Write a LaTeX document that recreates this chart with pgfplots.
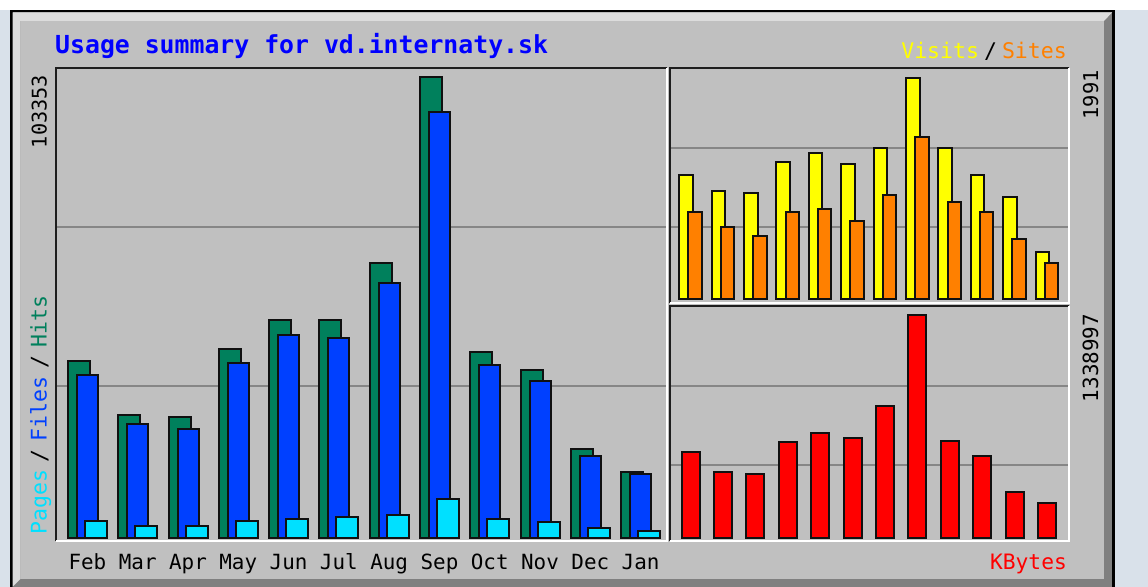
\documentclass[border=0pt]{standalone}
\usepackage{pgfplots}
\pgfplotsset{compat=1.18}
\usepackage{pgfplotstable}
\usepackage{fontspec}
\setmainfont{DejaVu Sans Mono}
\newfontfamily\mono{DejaVu Sans Mono}

\definecolor{hitsc}{HTML}{00805C}
\definecolor{filesc}{HTML}{0040FF}
\definecolor{pagesc}{HTML}{00E0FF}
\definecolor{visitsc}{HTML}{FFFF00}
\definecolor{sitesc}{HTML}{FF8000}
\definecolor{kbytesc}{HTML}{FF0000}
\definecolor{titlec}{HTML}{0000FF}
\definecolor{panelc}{HTML}{C0C0C0}
\definecolor{pagebg}{HTML}{D9E1EA}
\definecolor{gridc}{HTML}{868686}
\definecolor{shadowc}{HTML}{808080}
\definecolor{lightc}{HTML}{DCDCDC}
\definecolor{bevdark}{HTML}{1E1E1E}
\definecolor{barline}{HTML}{101010}

\pgfplotstableread{
m hits files pages
0 39740 36590 3750
1 27480 25530 2630
2 27030 24400 2630
3 42300 39150 3820
4 48870 45510 4130
5 48870 44830 4710
6 61740 57110 5160
7 103353 95640 8760
8 41760 38770 4200
9 37650 35250 3590
10 19850 18270 2180
11 14820 14230 1570
}\hitstable

\pgfplotstableread{
m visits sites
0 1117 787
1 973 647
2 952 566
3 1236 787
4 1317 811
5 1216 706
6 1359 934
7 1991 1461
8 1359 872
9 1117 787
10 916 545
11 422 323
}\visitstable

\pgfplotstableread{
m kbytes
0 517800
1 395600
2 383500
3 574400
4 628600
5 602100
6 792900
7 1338997
8 584000
9 493700
10 275100
11 207100
}\kbytestable

\newcommand{\fsz}[1]{\fontsize{#1}{#1}\selectfont}

\pgfplotsset{
  webpanel/.style={
    scale only axis,
    anchor=south west,
    clip=false,
    axis line style={draw=none},
    major tick length=0pt,
    scaled y ticks=false,
    yticklabels={},
    ymajorgrids,
    grid style={line width=2bp, gridc},
    xtick style={draw=none},
    ytick style={draw=none},
  },
  webbar/.style={ybar, draw=barline, line width=2bp},
}

\newcommand{\bevel}{%
  \draw[line width=2bp, bevdark] (rel axis cs:0,0) -- (rel axis cs:0,1) -- (rel axis cs:1,1);
  \draw[line width=2bp, white] (rel axis cs:1,1) -- (rel axis cs:1,0) -- (rel axis cs:0,0);
}

\begin{document}
\begin{tikzpicture}[x=1bp, y=1bp]
\useasboundingbox (0,0) rectangle (1148,587);
% page and frame
\fill[pagebg] (0,0) rectangle (1148,587);
\fill[white] (0,577) rectangle (1148,587);
\fill[black] (10,0) rectangle (1114.5,577);
\fill[shadowc] (12.5,0) rectangle (1112,574.5);
\fill[lightc] (12.5,574.5) -- (1112,574.5) -- (1104,566) -- (20.5,566) -- (20.5,8) -- (12.5,0) -- cycle;
\fill[panelc] (20.5,8) rectangle (1104,566);

\coordinate (PL) at (56,46);
\coordinate (PU) at (669.5,284);
\coordinate (PD) at (669.5,46);

% left panel: hits / files / pages
\begin{axis}[webpanel,
  at={(PL)}, width=611bp, height=472.7bp,
  xmin=-0.625, xmax=11.525, ymin=-740, ymax=105380,
  ytick={34060,69820},
  xtick={0,...,11},
  xticklabels={Feb,Mar,Apr,May,Jun,Jul,Aug,Sep,Oct,Nov,Dec,Jan},
  xticklabel style={font=\fsz{21}, text=black, anchor=base, yshift=-29bp},
]
\addplot[webbar, bar width=22bp, bar shift=-8.5bp, fill=hitsc] table[x=m, y=hits] {\hitstable};
\addplot[webbar, bar width=21bp, bar shift=0bp, fill=filesc] table[x=m, y=files] {\hitstable};
\addplot[webbar, bar width=22bp, bar shift=8.5bp, fill=pagesc] table[x=m, y=pages] {\hitstable};
\bevel
\end{axis}

% upper right panel: visits / sites
\begin{axis}[webpanel,
  at={(PU)}, width=399.5bp, height=234.7bp,
  xmin=-0.648, xmax=11.682, ymin=-33, ymax=2075.5,
  ytick={652.3,1362},
  xtick=\empty,
]
\addplot[webbar, bar width=13.7bp, bar shift=-4.5bp, fill=visitsc] table[x=m, y=visits] {\visitstable};
\addplot[webbar, bar width=13.4bp, bar shift=4.5bp, fill=sitesc] table[x=m, y=sites] {\visitstable};
\bevel
\end{axis}

% lower right panel: kbytes
\begin{axis}[webpanel,
  at={(PD)}, width=399.5bp, height=234.5bp,
  xmin=-0.648, xmax=11.682, ymin=-19870, ymax=1392000,
  ytick={437700,915150},
  xtick=\empty,
]
\addplot[webbar, bar width=18bp, bar shift=0bp, fill=kbytesc] table[x=m, y=kbytes] {\kbytestable};
\bevel
\end{axis}

% texts
\node[anchor=base west, inner sep=0pt, text=titlec, font=\fsz{24.9}\bfseries] at (55,533) {Usage summary for vd.internaty.sk};
\node[anchor=base east, inner sep=0pt, font=\fsz{21.6}] at (1067,528) {\textcolor{visitsc}{Visits}\hspace{5bp}\textcolor{black}{/}\hspace{5bp}\textcolor{sitesc}{Sites}};
\node[anchor=base east, inner sep=0pt, text=kbytesc, font=\fsz{21.3}] at (1067,17) {KBytes};
\node[anchor=base, rotate=90, inner sep=0pt, font=\fsz{20.3}] at (46.5,475.5) {103353};
\node[anchor=base west, rotate=90, inner sep=0pt, font=\fsz{21.6}] at (46.5,52) {\textcolor{pagesc}{Pages}\hspace{8bp}\textcolor{black}{/}\hspace{8bp}\textcolor{filesc}{Files}\hspace{8bp}\textcolor{black}{/}\hspace{8bp}\textcolor{hitsc}{Hits}};
\node[anchor=base, rotate=90, inner sep=0pt, font=\fsz{20.5}] at (1098,492) {1991};
\node[anchor=base, rotate=90, inner sep=0pt, font=\fsz{21}] at (1098,229) {1338997};
\end{tikzpicture}
\end{document}
